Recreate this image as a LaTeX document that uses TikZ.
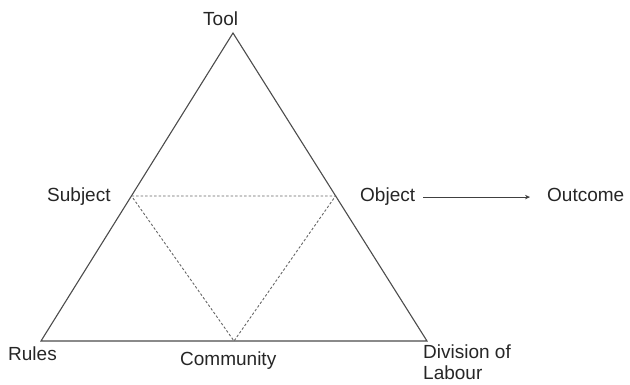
\documentclass[tikz,border=0pt]{standalone}
\usepackage{fontspec}
\setmainfont{Liberation Sans}
\usetikzlibrary{arrows.meta}
\begin{document}
\begin{tikzpicture}[x=1pt,y=1pt,yscale=-1,xscale=1,
	lbl/.style={inner sep=0pt,font=\fontsize{19}{21}\selectfont,text=black!85},
	side/.style={color=black!70,line width=1.1pt},
	dots/.style={color=black!60,line width=0.9pt,dash pattern={on 2.5pt off 2pt}}]
	\useasboundingbox (0,0) rectangle (630,385);
	%Corners of the triangle
	\coordinate (top) at (233,33);
	\coordinate (botleft) at (41,341);
	\coordinate (botright) at (427,341);
	%Middle points
	\coordinate (midleft) at (131.5,196);
	\coordinate (midright) at (335.5,196);
	\coordinate (midbot) at (234,341);
	%Outer triangle
	\draw [side] (top) -- (botleft) -- (botright) -- cycle;
	%Inner triangle
	\draw [dots] (midleft) -- (midright) -- (midbot) -- cycle;
	
	\node [lbl,anchor=base west] (tool) at (203,26) {Tool};
	
	\node [lbl,anchor=base west] (subject) at (47,202) {Subject};
	
	\node [lbl,anchor=base west] (object) at (360,202) {Object};
	
	\node [lbl,anchor=base west] (outcome) at (547,202) {Outcome};
	
	\node [lbl,anchor=base west] (rules) at (8,360) {Rules};
	
	\node [lbl,anchor=base west] (community) at (180,365) {Community};
	
	\node [lbl,anchor=base west,align=left] (division) at (423,379) {Division of\\Labour};
	%Arrow to the outcome
	\draw [color=black!75,line width=1pt,-{Stealth[length=5pt,width=4.5pt]},shorten <=8pt,shorten >=17pt] (object.east) -- (object.east -| outcome.west);
\end{tikzpicture}
\end{document}
